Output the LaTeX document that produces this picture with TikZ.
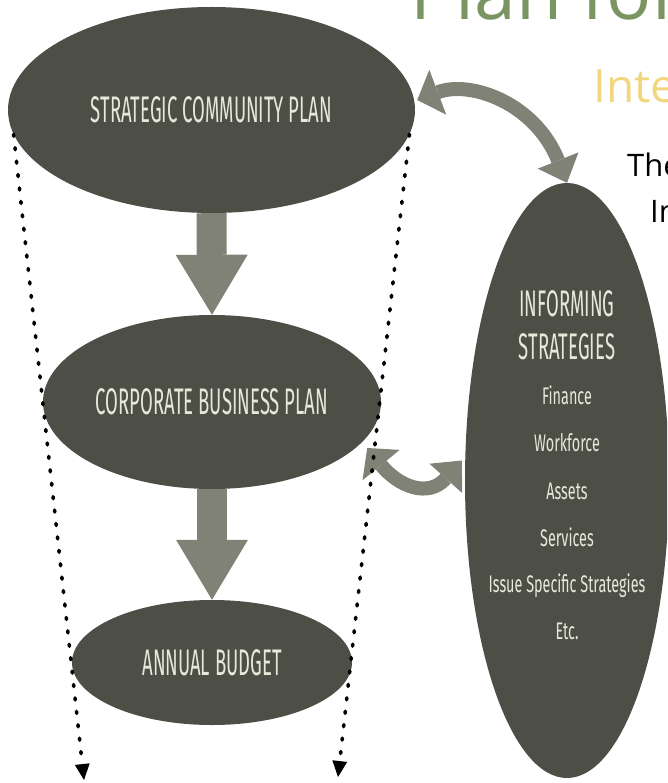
\documentclass[tikz,border=0pt]{standalone}
\usepackage{fontspec}
\usetikzlibrary{arrows.meta,shapes.geometric,calc}
\setmainfont{Open Sans}
\newfontfamily\agency[FakeStretch=0.5]{Fira Sans}
\newfontfamily\agencyw[FakeStretch=0.6]{Fira Sans}
\definecolor{ellfill}{HTML}{4D4F46}
\definecolor{arrgray}{HTML}{7F8275}
\definecolor{lbl}{HTML}{E8E8DA}
\definecolor{titlegreen}{HTML}{7A9462}
\definecolor{titleyellow}{HTML}{F2D67E}
\begin{document}
\begin{tikzpicture}[x=1pt,y=-1pt,
  ell/.style={ellipse, fill=ellfill, inner sep=0pt, text=lbl, font=\agency\fontsize{37}{40}\selectfont},
  rlbl/.style={text=lbl, anchor=base, inner sep=0pt},
  bighead/.style={font=\agency\fontsize{37}{40}\selectfont},
  smallitem/.style={font=\agencyw\fontsize{24}{27}\selectfont},
  bigarrow/.style={draw=arrgray, line width=30pt, -{Triangle[length=60pt,width=72pt,line width=0pt]}},
  curvearrow/.style={draw=arrgray, line width=14pt, {Triangle[length=22pt,width=48pt,line width=0pt]}-{Triangle[length=24pt,width=44pt,line width=0pt]}},
  dotline/.style={draw=black, line width=3.6pt, line cap=round, dash pattern=on 2pt off 11.5pt, -{Triangle[length=16pt,width=15pt,line width=0pt]}}
]
\useasboundingbox (0,0) rectangle (667,783);
\clip (0,0) rectangle (667,783);

% title texts
\node[anchor=base west, inner sep=0pt, text=titlegreen, font=\fontsize{75}{80}\selectfont] (title) at (410,20) {Plan for};
\node[anchor=base west, inner sep=0pt, text=titleyellow, font=\fontsize{46}{50}\selectfont] (subtitle) at (593,103) {Inte};
\node[anchor=base west, inner sep=0pt, text=black, font=\fontsize{31}{34}\selectfont] (the) at (627,177) {The};
\node[anchor=base west, inner sep=0pt, text=black, font=\fontsize{31}{34}\selectfont] (in) at (650,223) {In};

% ellipses
\node[ell, minimum width=407pt, minimum height=206pt] (scp) at (211.5,110) {STRATEGIC COMMUNITY PLAN};
\node[ell, minimum width=338pt, minimum height=174pt] (cbp) at (212,402) {CORPORATE BUSINESS PLAN};
\node[ell, minimum width=280pt, minimum height=125pt] (bud) at (212,662.5) {ANNUAL BUDGET};
\node[ell, minimum width=204pt, minimum height=595pt] (inf) at (567,480.5) {};

% right labels
\node[rlbl, bighead] (l1) at (567,316) {INFORMING};
\node[rlbl, bighead] (l2) at (567,359) {STRATEGIES};
\node[rlbl, smallitem] (l3) at (567,404) {Finance};
\node[rlbl, smallitem] (l4) at (567,451) {Workforce};
\node[rlbl, smallitem] (l5) at (567,499) {Assets};
\node[rlbl, smallitem] (l6) at (567,546) {Services};
\node[rlbl, smallitem] (l7) at (567,592) {Issue Specific Strategies};
\node[rlbl, smallitem] (l8) at (567,639) {Etc.};

% straight arrows
\draw[bigarrow] (scp.south) -- (cbp.north);
\draw[bigarrow] (cbp.south) -- (bud.north);

% curved double arrows
\coordinate (ta) at ($(scp.east)+(2,-10)$);
\coordinate (tb) at (inf.north);
\draw[curvearrow] (ta) .. controls ($(ta)+(53,-20)$) and ($(tb)+(-32,-80)$) .. (tb);
\coordinate (la) at ($(cbp.east)+(-14,46)$);
\coordinate (lb) at ($(inf.west)+(-3,-20)$);
\draw[curvearrow] (la) .. controls ($(la)+(31,38)$) and ($(lb)+(-34,38)$) .. (lb);

% dotted side arrows
\coordinate (lend) at (84,780);
\coordinate (rend) at (338,777);
\draw[dotline] (scp.187) -- (lend);
\draw[dotline] (scp.-7) -- (rend);
\end{tikzpicture}
\end{document}
